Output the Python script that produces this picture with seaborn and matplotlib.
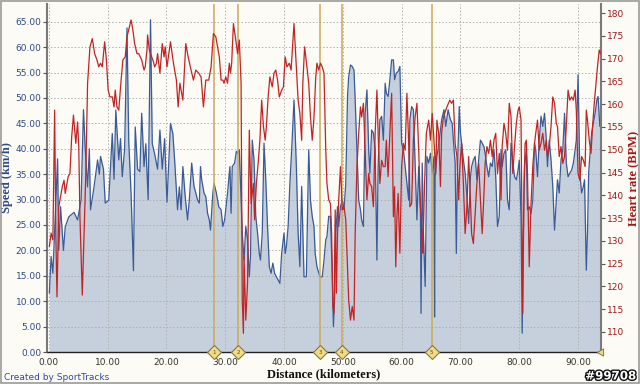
import numpy as np
import pandas as pd
import matplotlib
matplotlib.use("Agg")
import matplotlib.pyplot as plt
import matplotlib.patheffects as pe
import seaborn as sns

# ---------------- data ----------------
speed_km = [0.1,0.4,0.7,1.0,1.5,1.7,2.0,2.5,2.8,3.4,4.3,4.9,5.5,5.9,6.2,6.6,6.9,7.1,7.7,8.3,8.6,8.8,9.3,9.6,
    10.2,10.8,11.1,11.4,11.9,12.2,12.5,12.9,13.3,13.6,14.0,14.4,14.7,15.1,15.5,15.8,16.2,16.5,16.9,17.3,17.6,
    18.0,18.5,18.9,19.3,19.7,20.1,20.7,21.1,21.4,21.9,22.2,22.5,22.8,23.2,23.6,23.9,24.3,24.7,25.0,25.3,25.6,
    25.8,26.0,26.4,26.7,27.0,27.3,27.5,27.9,28.1,28.5,28.9,29.3,29.6,29.9,30.4,30.8,31.0,31.2,31.6,31.9,32.1,
    32.4,32.7,32.9,33.2,33.5,33.8,34.1,34.3,34.6,34.9,35.2,35.5,35.8,36.0,36.3,36.6,36.9,37.2,37.5,37.8,38.1,
    38.4,38.7,39.0,39.3,39.6,40.0,40.2,40.4,40.7,41.0,41.3,41.7,42.1,42.4,42.7,43.0,43.4,43.8,44.2,44.5,44.8,
    45.1,45.3,45.6,46.1,46.5,46.8,47.1,47.3,47.6,47.9,48.2,48.4,48.6,48.8,49.1,49.3,49.6,49.9,50.2,50.5,50.8,
    51.0,51.3,51.6,51.9,52.1,52.4,52.7,53.0,53.2,53.5,53.8,54.1,54.4,54.6,54.9,55.2,55.5,55.8,56.0,56.3,56.6,
    56.9,57.2,57.4,57.7,58.0,58.3,58.6,58.8,59.1,59.4,59.7,60.0,60.3,60.6,60.9,61.2,61.4,61.7,62.0,62.3,62.6,
    62.9,63.2,63.3,63.5,63.7,64.0,64.3,64.6,64.9,65.2,65.5,65.6,65.7,66.0,66.4,66.8,67.2,67.5,67.9,68.3,68.6,
    68.8,69.1,69.3,69.5,69.8,70.0,70.2,70.5,70.8,71.1,71.4,71.7,71.9,72.2,72.5,72.8,73.1,73.4,73.7,74.0,74.2,
    74.5,74.8,75.1,75.4,75.7,76.0,76.3,76.6,76.9,77.1,77.4,77.7,78.0,78.3,78.6,78.9,79.2,79.5,79.8,80.0,80.3,
    80.5,80.7,80.9,81.2,81.4,81.7,82.0,82.3,82.6,82.8,83.1,83.4,83.7,84.0,84.3,84.6,84.8,85.1,85.4,85.7,86.0,
    86.3,86.5,86.8,87.1,87.4,87.7,88.0,88.3,88.6,88.9,89.2,89.5,89.7,90.0,90.3,90.6,90.9,91.1,91.4,91.6,91.8,
    92.0,92.3,92.6,92.9,93.2,93.4,93.7]
speed_kmh = [11.6,18.8,15.5,24.0,38.0,20.0,28.6,20.0,24.6,26.6,27.5,26.0,30.0,47.7,40.0,32.5,40.0,28.0,32.5,37.8,
    35.0,38.5,36.0,29.3,29.9,43.0,34.0,47.6,37.8,42.0,34.5,40.0,63.8,41.5,31.0,16.0,44.3,36.0,35.5,47.0,36.5,
    41.0,30.0,65.4,41.0,39.0,36.0,43.7,36.0,42.0,29.5,45.0,43.0,37.8,28.0,32.5,28.0,36.5,30.6,26.0,29.9,37.2,
    32.6,31.3,29.9,29.3,36.5,33.9,31.3,30.6,27.3,26.0,24.0,31.3,33.2,31.3,28.6,28.0,24.7,26.0,31.3,36.5,27.3,
    36.5,37.2,39.5,39.1,39.8,29.9,23.4,18.1,24.7,22.1,14.8,18.8,41.7,37.8,26.7,23.4,19.4,18.1,23.4,41.1,33.9,
    24.7,16.8,15.5,17.5,15.5,14.8,14.2,13.5,19.4,23.4,19.4,20.7,24.7,33.2,39.8,49.6,36.5,23.4,16.8,32.6,14.8,
    14.8,39.8,29.9,26.7,24.7,19.4,16.8,14.8,14.8,18.1,22.1,22.7,26.7,26.7,15.5,5.0,10.2,23.4,28.6,24.7,28.6,
    29.9,28.0,33.2,50.3,54.2,56.5,56.2,55.5,49.6,39.8,29.9,28.0,26.0,24.7,47.0,51.6,39.8,35.2,43.7,43.1,39.8,
    18.1,36.5,45.7,46.4,41.7,52.9,50.9,50.3,53.6,57.5,57.5,53.6,54.9,55.2,56.2,41.1,39.8,36.5,33.2,29.9,45.7,
    48.3,47.7,36.5,26.0,36.5,27.3,7.6,37.2,23.4,12.9,38.5,37.2,39.1,35.2,38.5,6.9,34.5,38.5,41.7,45.7,47.7,
    44.4,47.7,45.7,45.0,41.7,37.2,19.4,36.5,48.3,43.1,41.1,37.8,35.2,30.6,25.3,34.5,36.5,37.8,38.5,33.9,37.8,
    41.7,41.1,40.4,39.1,36.5,34.5,37.2,36.5,39.8,34.5,24.7,26.7,39.8,36.5,39.1,39.8,29.9,28.0,41.1,37.2,34.5,
    33.9,35.8,37.8,26.7,3.7,23.4,36.5,39.8,28.0,28.6,27.3,29.9,41.1,39.8,34.5,41.7,46.4,44.4,47.0,41.7,36.5,
    41.7,37.8,32.6,24.0,29.9,33.9,31.3,37.8,39.8,47.0,37.2,34.5,35.2,35.8,37.2,39.8,41.7,54.6,35.2,31.3,32.6,
    33.9,16.1,23.4,35.2,38.5,43.1,45.0,47.0,49.6,50.3,44.4]

hr_km = [0.1,0.4,0.7,1.0,1.2,1.4,1.7,1.9,2.3,2.6,2.8,3.3,3.6,3.9,4.2,4.6,4.9,5.1,5.3,5.7,6.0,6.3,6.6,7.0,7.4,7.8,
    8.2,8.5,8.8,9.1,9.5,9.8,10.1,10.4,10.8,11.1,11.3,11.6,11.9,12.3,12.6,13.0,13.3,14.0,14.3,14.6,15.0,15.3,15.8,
    16.2,16.4,16.7,16.8,17.1,17.3,17.8,18.0,18.3,18.5,18.9,19.3,19.6,19.8,20.1,20.7,21.2,21.7,22.0,22.3,22.8,23.3,
    23.7,24.2,24.6,25.0,25.5,25.9,26.3,26.7,27.2,27.6,28.0,28.4,28.8,29.0,29.3,29.6,29.8,30.1,30.4,30.7,30.9,31.1,
    31.4,31.8,32.1,32.4,32.7,32.9,33.1,33.2,33.4,33.5,33.8,34.1,34.4,34.8,35.0,35.3,35.6,35.9,36.2,36.5,36.8,37.0,
    37.3,37.6,38.0,38.3,38.6,38.9,39.2,39.6,39.9,40.2,40.5,40.9,41.2,41.7,42.1,42.4,42.7,43.0,43.2,43.5,43.9,44.2,
    44.5,44.8,45.1,45.4,45.6,45.9,46.2,46.5,46.8,47.1,47.3,47.6,47.9,48.1,48.3,48.5,48.7,48.9,49.1,49.3,49.6,49.9,
    50.2,50.5,50.8,51.0,51.3,51.6,51.9,52.1,52.4,52.7,53.0,53.2,53.5,53.8,54.1,54.4,54.6,54.9,55.2,55.5,55.8,56.0,
    56.3,56.6,56.9,57.2,57.4,57.7,58.0,58.3,58.6,58.8,59.0,59.2,59.4,59.7,60.0,60.3,60.6,60.9,61.2,61.4,61.7,62.0,
    62.3,62.6,62.9,63.2,63.5,63.6,63.9,64.2,64.6,64.9,65.2,65.5,65.8,66.0,66.3,66.6,66.8,67.1,67.7,68.2,68.5,68.8,
    69.1,69.4,69.7,69.9,70.2,70.5,70.8,71.1,71.4,71.7,71.9,72.2,72.5,72.8,73.1,73.4,73.7,74.0,74.2,74.5,74.8,75.1,
    75.4,75.7,76.0,76.3,76.6,76.9,77.1,77.4,77.7,78.0,78.3,78.6,78.9,79.2,79.5,79.8,80.0,80.3,80.6,80.8,81.0,81.2,
    81.4,81.7,82.0,82.3,82.6,82.8,83.1,83.4,83.7,84.0,84.3,84.6,84.8,85.1,85.4,85.7,86.0,86.3,86.5,86.8,87.1,87.4,
    87.7,88.0,88.3,88.6,88.9,89.2,89.5,89.7,90.0,90.3,90.6,90.9,91.2,91.4,91.6,91.9,92.2,92.5,92.8,93.1,93.3,93.6,93.8]
hr_bpm = [128.7,131.7,130.2,158.7,131.6,117.7,137.4,139.0,141.9,143.3,140.4,144.1,144.8,152.9,157.6,151.4,156.1,
    150.7,135.3,118.1,131.6,144.8,164.6,172.5,174.4,171.1,169.7,168.2,169.0,168.2,173.7,169.7,163.1,161.6,161.6,
    159.4,163.1,159.4,158.7,165.3,169.7,170.4,174.8,178.5,176.3,173.3,171.1,171.1,169.7,167.5,168.2,171.9,175.2,
    171.9,171.1,169.3,168.2,169.0,171.1,166.8,173.3,170.4,172.6,168.2,173.7,169.0,165.3,159.4,164.6,160.9,173.3,
    170.4,167.5,165.3,167.5,166.8,166.0,159.4,165.3,165.3,168.2,175.5,174.8,171.9,170.4,165.3,165.3,164.6,166.0,
    164.6,169.0,166.8,169.0,177.7,174.1,171.1,174.1,164.6,117.0,109.7,126.5,117.0,112.6,120.7,154.3,138.2,142.6,
    134.6,142.6,147.0,152.1,160.9,155.1,152.1,155.1,161.6,166.0,163.8,166.8,167.5,165.3,161.6,163.1,163.8,170.4,
    168.2,169.0,167.5,177.7,168.2,160.9,158.0,152.1,164.6,172.6,168.2,164.6,157.2,152.1,157.2,166.0,169.0,167.5,
    169.0,168.2,166.8,149.9,142.6,139.0,138.2,131.6,115.6,114.1,136.8,118.5,131.6,139.0,146.3,136.8,137.5,134.6,
    124.3,117.0,112.6,115.6,112.6,131.6,146.3,153.6,159.4,157.2,160.2,149.9,139.0,144.8,142.6,141.9,137.5,153.6,
    163.1,153.6,142.6,147.7,146.3,146.3,152.1,144.1,153.6,162.4,135.3,141.9,124.3,135.3,140.4,127.3,146.3,151.4,
    149.9,162.4,151.4,137.5,138.2,152.1,157.2,160.2,149.9,137.5,131.6,127.3,142.6,153.6,156.5,152.1,158.0,152.1,
    144.8,156.5,153.6,141.9,153.6,157.2,159.4,160.9,160.2,160.9,151.4,148.5,139.0,146.3,151.4,142.6,131.6,137.5,
    148.5,139.0,131.6,129.4,136.0,142.6,147.0,139.0,131.6,140.4,147.0,150.7,149.2,152.1,148.5,152.1,153.6,144.8,
    149.2,139.0,150.7,155.8,153.6,149.9,160.2,157.2,144.8,150.7,155.8,158.7,159.4,156.5,114.1,141.9,151.4,152.1,
    144.8,124.3,138.2,146.3,151.4,153.6,156.5,149.9,151.4,153.6,149.9,152.1,148.5,150.7,155.1,161.6,160.2,155.8,
    155.1,148.5,150.7,147.0,148.5,155.1,163.1,160.9,161.6,160.9,163.1,158.7,144.8,143.3,148.5,147.7,146.3,158.7,
    156.5,152.1,149.2,155.8,160.9,165.3,168.2,171.9,171.1]

marker_km = [28.1, 32.2, 46.1, 49.8, 65.1]
marker_labels = ["1", "2", "3", "4", "5"]

speed_ticks = [0, 5, 10, 15, 20, 25, 30, 35, 40, 45, 50, 55, 60, 65]
hr_ticks = [110, 115, 120, 125, 130, 135, 140, 145, 150, 155, 160, 165, 170, 175, 180]
dist_ticks = [0, 10, 20, 30, 40, 50, 60, 70, 80, 90]

# ---------------- style ----------------
sns.set_style("white")
plt.rcParams['font.family'] = ['DejaVu Sans']

BG = "#FCFBF5"
SPEED_C = "#3A5B97"
FILL_C = "#C6CFDC"
HR_C = "#C22424"
GOLD = "#C9AA55"

fig = plt.figure(figsize=(6.4, 3.84), dpi=100, facecolor=BG)
ax = fig.add_axes([47/640, 1 - 352/384, (601 - 47)/640, (352 - 4)/384])
ax.set_facecolor(BG)

df_s = pd.DataFrame({"Distance": speed_km, "Speed": speed_kmh})
df_h = pd.DataFrame({"Distance": hr_km, "HR": hr_bpm})

ax.fill_between(df_s["Distance"], df_s["Speed"], 0, color=FILL_C, lw=0, zorder=1)
sns.lineplot(data=df_s, x="Distance", y="Speed", ax=ax, color=SPEED_C, lw=0.9, zorder=3)

ax.set_xlim(-0.3, 93.9)
ax.set_ylim(0, 68.5)
ax.set_yticks(speed_ticks)
ax.set_yticklabels([f"{v:.2f}" for v in speed_ticks])
ax.set_xticks(dist_ticks)
ax.set_xticklabels([f"{v:.2f}" for v in dist_ticks])
ax.grid(True, color="#B0B0B0", linestyle=(0, (1.5, 2)), lw=0.7)
ax.set_axisbelow(False)
for gl in ax.get_xgridlines() + ax.get_ygridlines():
    gl.set_zorder(2)

ax.tick_params(axis="y", colors="#2F4A80", labelsize=6.5, length=3, width=0.8, pad=1, direction="out")
ax.tick_params(axis="x", colors="#333333", labelsize=6.5, length=3, width=0.8, pad=1, direction="out")
ax.tick_params(axis="y", color="#555555")

ax.set_xlabel("Distance (kilometers)", family="Liberation Serif", fontsize=9, fontweight="bold",
              color="#111111", labelpad=1)
ax.set_ylabel("Speed (km/h)", family="Liberation Serif", fontsize=9, fontweight="bold",
              color="#2F4A80", labelpad=2)

ax.spines["top"].set_visible(False)
ax.spines["left"].set_color("#7A7A7A")
ax.spines["left"].set_linewidth(1.5)
ax.spines["bottom"].set_color("#222222")
ax.spines["bottom"].set_linewidth(1.0)
ax.spines["right"].set_visible(False)

# marker lines
for km, lab in zip(marker_km, marker_labels):
    ax.axvline(km, color=GOLD, lw=1.1, zorder=4)
    ax.plot([km], [0], marker="D", ms=7, mfc="#EEDC8A", mec="#8A7A30", mew=0.8,
            clip_on=False, zorder=6)
    ax.text(km, 0, lab, fontsize=4, ha="center", va="center", color="#5A4A10",
            zorder=7, clip_on=False)

# heart rate on twin axis
ax2 = ax.twinx()
sns.lineplot(data=df_h, x="Distance", y="HR", ax=ax2, color=HR_C, lw=0.9, zorder=5)
ax2.set_ylim(105.6, 182)
ax2.set_yticks(hr_ticks)
ax2.set_yticklabels([str(v) for v in hr_ticks])
ax2.tick_params(axis="y", labelcolor="#A01818", color="#555555", labelsize=6.5, length=3, width=0.8, pad=1)
ax2.set_ylabel("Heart rate (BPM)", family="Liberation Serif", fontsize=9, fontweight="bold",
               color="#A01818", labelpad=3)
ax2.set_xlabel("")
for s in ["top", "left", "bottom"]:
    ax2.spines[s].set_visible(False)
ax2.spines["right"].set_color("#7A7A7A")
ax2.spines["right"].set_linewidth(1.5)
ax2.set_xlim(-0.3, 93.9)

# end-of-track marker
ax2.plot([93.9], [105.6], marker=(3, 0, 90), ms=6, mfc="#EEDC8A", mec="#8A7A30", mew=0.7,
         clip_on=False, zorder=8)

# figure frame and credits
fig.patches.append(plt.Rectangle((0.002, 0.003), 0.996, 0.994, transform=fig.transFigure,
                                 fill=False, ec="#9A9A9A", lw=1.2))
fig.text(4/640, 1 - 377/384, "Created by SportTracks", fontsize=6.5, color="#2F4AA0",
         va="center", ha="left")
t = fig.text(636/640, 1 - 376/384, "#99708", fontsize=8.5, fontweight="bold", color="white",
             va="center", ha="right")
t.set_path_effects([pe.withStroke(linewidth=2.0, foreground="#111111")])

fig.savefig("out.png", dpi=100, facecolor=BG)
